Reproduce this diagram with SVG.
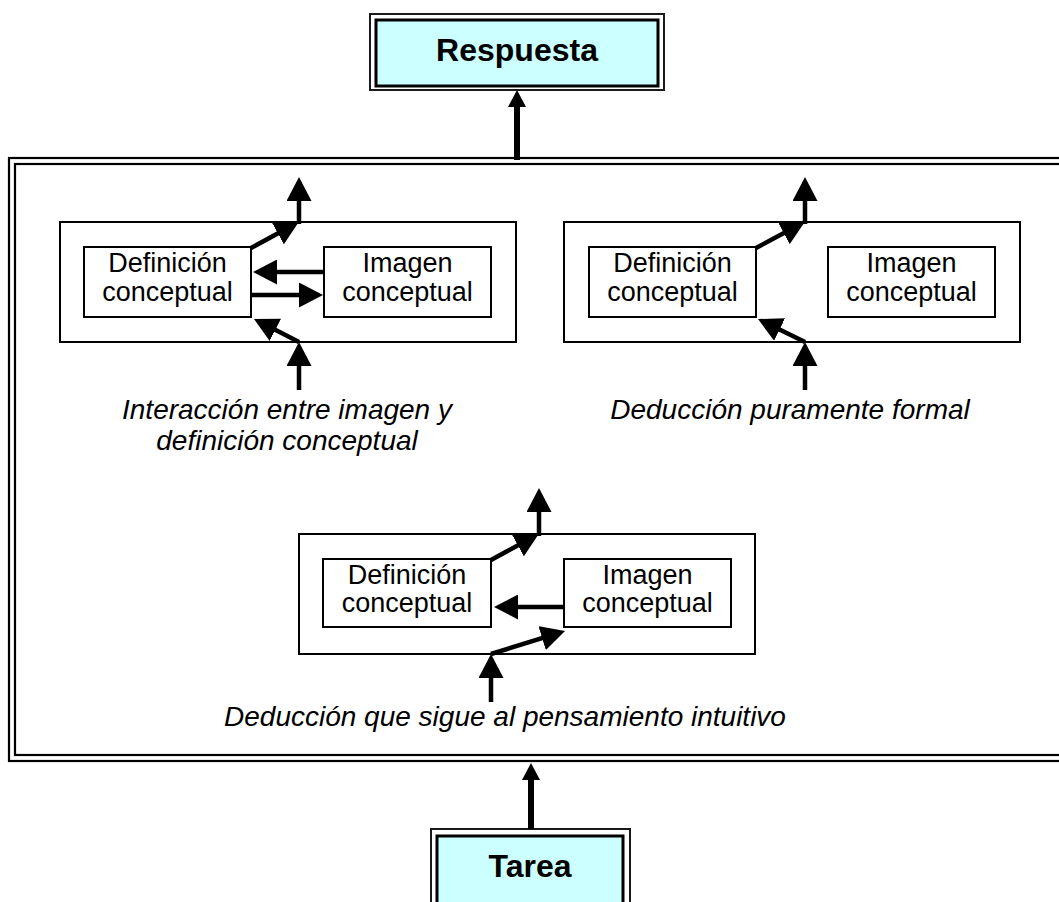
<svg xmlns="http://www.w3.org/2000/svg" width="1059" height="902" viewBox="0 0 1059 902">
  <style>
    .frame { fill: none; stroke: #000; stroke-width: 2.2; }
    .group { fill: #fff; stroke: #000; stroke-width: 2; }
    .box { fill: #fff; stroke: #000; stroke-width: 2; }
    .title-outer { fill: #fff; stroke: #1a1a1a; stroke-width: 2; }
    .title-inner { fill: #ccffff; stroke: #000; stroke-width: 3; }
    .label { font-family: "Liberation Sans", Arial, sans-serif; font-size: 27px; fill: #000; text-anchor: middle; }
    .caption { font-family: "Liberation Sans", Arial, sans-serif; font-size: 28px; font-style: italic; fill: #000; text-anchor: middle; }
    .title { font-family: "Liberation Sans", Arial, sans-serif; font-size: 32px; font-weight: bold; fill: #000; text-anchor: middle; }
    .arrow { fill: none; stroke: #000; stroke-width: 4.5; marker-end: url(#head); }
    .link { fill: none; stroke: #000; stroke-width: 6; marker-end: url(#bighead); }
  </style>
  <defs>
    <marker id="head" markerUnits="userSpaceOnUse" viewBox="0 0 24 25" markerWidth="24" markerHeight="25" refX="16" refY="12.5" orient="auto">
      <path d="M0,0 L24,12.5 L0,25 z" fill="#000"/>
    </marker>
    <marker id="bighead" markerUnits="userSpaceOnUse" viewBox="0 0 17 18" markerWidth="17" markerHeight="18" refX="11" refY="9" orient="auto">
      <path d="M0,0 L17,9 L0,18 z" fill="#000"/>
    </marker>
  </defs>

  <rect width="1059" height="902" fill="#fff"/>

  <!-- outer double frame (runs past the right edge) -->
  <g id="frame">
    <rect class="frame" x="9" y="158" width="1100" height="603"/>
    <rect class="frame" x="15" y="164" width="1088" height="591"/>
  </g>

  <!-- Respuesta -->
  <g id="respuesta">
    <rect class="title-outer" x="370" y="14" width="294" height="76"/>
    <rect class="title-inner" x="376" y="20" width="282" height="66"/>
    <text class="title" x="517" y="61">Respuesta</text>
  </g>

  <!-- Tarea -->
  <g id="tarea">
    <rect class="title-outer" x="431" y="829" width="199" height="100"/>
    <rect class="title-inner" x="437" y="836" width="186" height="90"/>
    <text class="title" x="530" y="877">Tarea</text>
  </g>

  <!-- group 1: interaction -->
  <g id="grupo-interaccion">
    <rect class="group" x="60" y="222" width="456" height="120"/>
    <g id="def1">
      <rect class="box" x="84" y="247" width="167" height="70"/>
      <text class="label" x="167.5" y="272">Definición</text>
      <text class="label" x="167.5" y="301">conceptual</text>
    </g>
    <g id="img1">
      <rect class="box" x="324" y="247" width="167" height="70"/>
      <text class="label" x="407.5" y="272">Imagen</text>
      <text class="label" x="407.5" y="301">conceptual</text>
    </g>
    <text class="caption" x="287" y="419">Interacción entre imagen y</text>
    <text class="caption" x="287" y="450">definición conceptual</text>
  </g>

  <!-- group 2: formal deduction -->
  <g id="grupo-formal">
    <rect class="group" x="564" y="222" width="456" height="120"/>
    <g id="def2">
      <rect class="box" x="589" y="247" width="167" height="70"/>
      <text class="label" x="672.5" y="272">Definición</text>
      <text class="label" x="672.5" y="301">conceptual</text>
    </g>
    <g id="img2">
      <rect class="box" x="828" y="247" width="167" height="70"/>
      <text class="label" x="911.5" y="272">Imagen</text>
      <text class="label" x="911.5" y="301">conceptual</text>
    </g>
    <text class="caption" x="790" y="419">Deducción puramente formal</text>
  </g>

  <!-- group 3: deduction after intuitive thinking -->
  <g id="grupo-intuitivo">
    <rect class="group" x="299" y="534" width="456" height="120"/>
    <g id="def3">
      <rect class="box" x="323" y="559" width="168" height="68"/>
      <text class="label" x="407" y="584">Definición</text>
      <text class="label" x="407" y="612">conceptual</text>
    </g>
    <g id="img3">
      <rect class="box" x="564" y="559" width="167" height="68"/>
      <text class="label" x="647.5" y="584">Imagen</text>
      <text class="label" x="647.5" y="612">conceptual</text>
    </g>
    <text class="caption" x="505" y="726">Deducción que sigue al pensamiento intuitivo</text>
  </g>

  <!-- connectors -->
  <g id="connectors">
    <path class="link" d="M517,160 L517,96"/>
    <path class="link" d="M531,829 L531,769"/>

    <!-- group 1 -->
    <path class="arrow" d="M251,248 L291.9,225.7"/>
    <path class="arrow" d="M299,224 L299,185"/>
    <path class="arrow" d="M324,272 L261,272"/>
    <path class="arrow" d="M251,295 L315,295"/>
    <path class="arrow" d="M299,390 L299,350"/>
    <path class="arrow" d="M299,342 L261.1,322.6"/>

    <!-- group 2 -->
    <path class="arrow" d="M756,248 L797.9,225.6"/>
    <path class="arrow" d="M805,224 L805,185"/>
    <path class="arrow" d="M805,390 L805,350"/>
    <path class="arrow" d="M805,342 L765.2,322.5"/>

    <!-- group 3 -->
    <path class="arrow" d="M491,560 L531.9,537.7"/>
    <path class="arrow" d="M539,536 L539,496"/>
    <path class="arrow" d="M564,607 L502,607"/>
    <path class="arrow" d="M491,702 L491,662"/>
    <path class="arrow" d="M491,654 L557.4,633.4"/>
  </g>
</svg>
